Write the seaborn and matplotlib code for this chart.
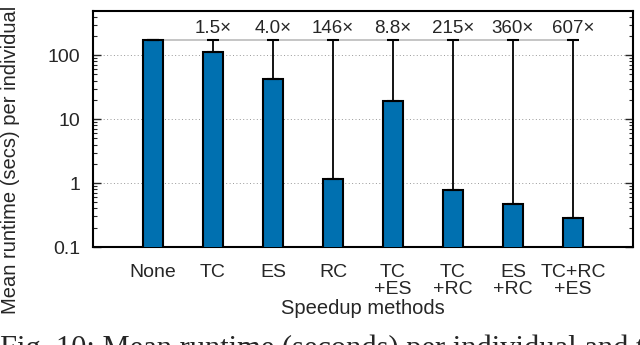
import matplotlib
matplotlib.use("Agg")
import matplotlib.pyplot as plt
import matplotlib.ticker as mticker
import seaborn as sns

# mean runtime (secs) per individual
methods = ["None", "TC", "ES", "RC", "TC\n+ES", "TC\n+RC", "ES\n+RC", "TC+RC\n+ES"]
runtimes = [170, 113, 42.5, 1.16, 19.3, 0.79, 0.47, 0.28]
speedups = ["", "1.5×", "4.0×", "146×", "8.8×", "215×", "360×", "607×"]

sns.set_theme(style="ticks")
plt.rcParams["font.family"] = ["Liberation Sans", "DejaVu Sans"]

dpi = 100
fig = plt.figure(figsize=(640. / dpi, 345. / dpi), dpi=dpi)
ax = fig.add_axes([93 / 640, 1 - 247 / 345, 540 / 640, 236 / 345])

sns.barplot(x=methods, y=runtimes, color="#0070b0", width=0.33,
            edgecolor="black", linewidth=1.5, saturation=1, ax=ax, zorder=3)
ax.set_yscale("log")

# whiskers from each bar up to the baseline runtime
base = runtimes[0]
xs = list(range(len(methods)))
ax.hlines(base, xs[0], xs[-1], color="#bbbbbb", lw=1.2, zorder=2)
ax.errorbar(xs, runtimes, yerr=[[0] * len(runtimes), [base - r for r in runtimes]],
            fmt="none", ecolor="black", elinewidth=1.3, capsize=4, capthick=1.5, zorder=4)

for x, s in zip(xs, speedups):
    if s:
        ax.text(x, base * 1.55, s, ha="center", va="center", fontsize=13.5)

ax.set_xlim(-1, 8)
ax.set_ylim(0.1, 490)
ax.yaxis.set_major_locator(mticker.LogLocator(base=10, numticks=10))
ax.yaxis.set_major_formatter(mticker.FuncFormatter(lambda v, p: f"{v:g}"))
ax.yaxis.set_minor_locator(mticker.LogLocator(base=10, subs=range(2, 10), numticks=10))
ax.yaxis.set_minor_formatter(mticker.NullFormatter())
ax.grid(axis="y", which="major", linestyle=(0, (1, 2.5)), color="#999999", lw=0.7, zorder=1)

ax.tick_params(axis="y", which="both", direction="in", left=True, right=True, labelsize=14, pad=9)
ax.tick_params(axis="y", which="major", length=6, width=1)
ax.tick_params(axis="y", which="minor", length=3, width=0.8)
ax.tick_params(axis="x", length=0, labelsize=14, pad=12)
for lbl in ax.get_xticklabels():
    lbl.set_linespacing(1.0)
for sp in ax.spines.values():
    sp.set_linewidth(1.5)
    sp.set_color("black")

ax.set_xlabel("Speedup methods", fontsize=14.5, labelpad=1)
ax.set_ylabel("Mean runtime (secs) per individual", fontsize=14.5)
ax.yaxis.set_label_coords(-0.135, 0.37)

fig.text(0.0, -12 / 345, "Fig. 10: Mean runtime (seconds) per individual and the speedup of each method",
         fontsize=22, va="baseline", ha="left", family=["Liberation Serif", "DejaVu Serif"])

fig.savefig("out.png", dpi=dpi)
